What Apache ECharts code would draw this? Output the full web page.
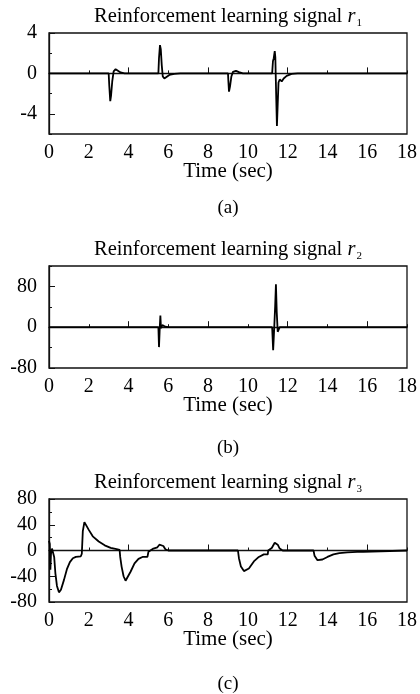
<!DOCTYPE html>
<html>
<head>
<meta charset="utf-8">
<script src="https://cdn.jsdelivr.net/npm/echarts@6/dist/echarts.min.js"></script>
<style>html,body{margin:0;padding:0;background:#fff}#c{width:420px;height:694px}</style>
</head>
<body>
<div id="c"></div>
<script>
// ---- data (time in sec, signal value) ----
const xTickLabels = [0, 2, 4, 6, 8, 10, 12, 14, 16, 18];
const xLongTicks = [4, 8, 12, 16];
const yLabels1 = [-4, 0, 4];
const yLabels2 = [-80, 0, 80];
const yLabels3 = [-80, -40, 0, 40, 80];

const r1Data = [
  [0,0],[3.0,0],[3.03,-1.2],[3.08,-2.75],[3.12,-2.2],[3.18,-0.8],[3.25,0.2],[3.35,0.42],[3.45,0.35],[3.6,0.1],[3.8,0],
  [5.5,0],[5.53,1.5],[5.58,2.8],[5.62,2.4],[5.67,0.8],[5.72,-0.3],[5.8,-0.5],[5.9,-0.4],[6.05,-0.15],[6.3,-0.05],[6.6,0],
  [9.0,0],[9.02,-0.8],[9.05,-1.8],[9.1,-1.3],[9.17,-0.3],[9.25,0.15],[9.4,0.25],[9.55,0.12],[9.75,0],
  [11.22,0],[11.26,1.2],[11.3,1.5],[11.35,2.2],[11.38,1.6],[11.42,-2],[11.46,-5.2],[11.5,-3],[11.54,-0.9],[11.6,-0.6],[11.7,-0.8],[11.8,-0.5],[11.95,-0.25],[12.2,-0.05],[12.5,0],
  [18,0]
];

const r2Data = [
  [0,0],[5.5,0],[5.53,-39],[5.57,0],[5.6,23],[5.63,-2],[5.7,4],[5.85,1],[6.0,0],
  [11.22,0],[11.27,-45],[11.32,-5],[11.37,40],[11.41,84],[11.45,30],[11.5,-9],[11.55,-8],[11.6,0],
  [18,0]
];

const r3Data = [
  [0,15],[0.04,10],[0.07,-30],[0.1,-5],[0.15,3],[0.22,4],[0.26,-10],[0.32,-35],[0.4,-55],[0.5,-65],[0.6,-61],[0.75,-46],[0.9,-29],[1.05,-18],[1.2,-12],[1.35,-10],[1.6,-9],
  [1.65,-5],[1.7,30],[1.78,44],[1.85,42],[2.0,32],[2.2,22],[2.5,14],[2.8,8],[3.1,4],[3.4,2],[3.55,1],
  [3.58,-10],[3.65,-25],[3.75,-40],[3.85,-47],[3.95,-45],[4.1,-33],[4.3,-20],[4.5,-13],[4.7,-10],[4.95,-10],
  [5.0,-2],[5.05,0],[5.25,3],[5.3,5],[5.45,5],[5.55,9],[5.65,12],[5.75,7],[5.85,2],[6.0,0],
  [9.5,0],[9.55,-12],[9.65,-25],[9.8,-32],[9.9,-33],[10.05,-28],[10.3,-17],[10.55,-10],[10.8,-6],[11.0,-6],
  [11.02,0],[11.1,3],[11.2,4],[11.25,7],[11.35,12],[11.42,14],[11.5,9],[11.6,3],[11.75,0],
  [13.3,0],[13.35,-8],[13.4,-11],[13.5,-15],[13.6,-16],[13.75,-14],[14.0,-10],[14.3,-6],[14.6,-4],[15.0,-3],[15.5,-2],[15.8,-2],[15.82,0],
  [18,0]
];

const panels = [
  {data: r1Data, min: -6, max: 4, interval: 2, labels: yLabels1, sub: '1', letter: '(a)', top: 33, height: 101, letterY: 208},
  {data: r2Data, min: -80, max: 120, interval: 40, labels: yLabels2, sub: '2', letter: '(b)', top: 266, height: 102, letterY: 448},
  {data: r3Data, min: -80, max: 80, interval: 20, labels: yLabels3, sub: '3', letter: '(c)', top: 499, height: 103, letterY: 684}
];

const FONT = '"Liberation Serif","Times New Roman",serif';
const LEFT = 49, WIDTH = 358, CX = LEFT + WIDTH / 2;

const grid = [], xAxis = [], yAxis = [], series = [], graphic = [];
panels.forEach((p, i) => {
  grid.push({left: LEFT, top: p.top, width: WIDTH, height: p.height, show: true, borderColor: '#111', borderWidth: 1.3, backgroundColor: 'transparent'});
  xAxis.push({
    gridIndex: i, type: 'value', min: 0, max: 18, interval: 2, position: 'bottom',
    axisLine: {show: true, lineStyle: {color: '#111', width: 1.3}},
    axisTick: {show: true, inside: true, length: 3, lineStyle: {color: '#111', width: 1}},
    axisLabel: {show: true, margin: 9, fontSize: 20, fontFamily: FONT, color: '#000', customValues: xTickLabels},
    splitLine: {show: false}
  });
  xAxis.push({
    gridIndex: i, type: 'value', min: 0, max: 18, position: 'bottom', offset: 0,
    axisLine: {show: false},
    axisTick: {show: true, inside: true, length: 6, lineStyle: {color: '#111', width: 1}, customValues: xLongTicks},
    axisLabel: {show: false}, splitLine: {show: false}
  });
  yAxis.push({
    gridIndex: i, type: 'value', min: p.min, max: p.max, interval: p.interval, position: 'left',
    axisLine: {show: true, lineStyle: {color: '#111', width: 1.3}},
    axisTick: {show: true, inside: true, length: 3, lineStyle: {color: '#111', width: 1}},
    axisLabel: {show: true, margin: 12, fontSize: 20, fontFamily: FONT, color: '#000', customValues: p.labels},
    splitLine: {show: false}
  });
  yAxis.push({
    gridIndex: i, type: 'value', min: p.min, max: p.max, position: 'left', offset: 0,
    axisLine: {show: false},
    axisTick: {show: true, inside: true, length: 6, lineStyle: {color: '#111', width: 1}, customValues: p.labels},
    axisLabel: {show: false}, splitLine: {show: false}
  });
  series.push({
    type: 'line', xAxisIndex: 2 * i, yAxisIndex: 2 * i, data: p.data,
    showSymbol: false, symbol: 'none', lineStyle: {color: '#000', width: 1.8}, silent: true, animation: false
  });
  const B = p.top + p.height;
  graphic.push({
    type: 'text', x: CX, y: p.top - 16,
    style: {
      text: '{n|Reinforcement learning signal }{i|r}{s|' + p.sub + '}',
      align: 'center', verticalAlign: 'middle', textAlign: 'center', textVerticalAlign: 'middle',
      rich: {
        n: {fontSize: 20.5, fontFamily: FONT, fill: '#000', lineHeight: 24},
        i: {fontSize: 20.5, fontFamily: FONT, fontStyle: 'italic', fill: '#000', lineHeight: 24},
        s: {fontSize: 11, fontFamily: FONT, fill: '#000', verticalAlign: 'bottom', lineHeight: 24, padding: [0, 0, 0, 1]}
      }
    }
  });
  graphic.push({
    type: 'text', x: CX, y: B + 37,
    style: {text: 'Time (sec)', font: '21px ' + FONT, fill: '#000', align: 'center', verticalAlign: 'middle', textAlign: 'center', textVerticalAlign: 'middle'}
  });
  graphic.push({
    type: 'text', x: CX, y: p.letterY,
    style: {text: p.letter, font: '19px ' + FONT, fill: '#000', align: 'center', verticalAlign: 'middle', textAlign: 'center', textVerticalAlign: 'middle'}
  });
});

const chart = echarts.init(document.getElementById('c'), null, {renderer: 'canvas'});
chart.setOption({animation: false, backgroundColor: '#fff', grid, xAxis, yAxis, series, graphic});
</script>
</body>
</html>
